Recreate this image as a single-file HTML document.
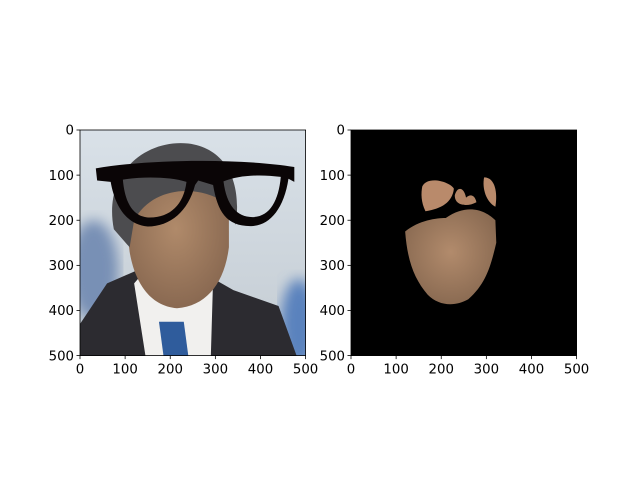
<!DOCTYPE html>
<html><head><meta charset="utf-8"><style>
html,body{margin:0;padding:0;background:#fff;}
svg{display:block;font-family:"DejaVu Sans","Liberation Sans",sans-serif;}
</style></head><body>
<svg id="fig" width="640" height="480" viewBox="0 0 640 480">
<defs>
<linearGradient id="bgg" x1="0" y1="0" x2="0" y2="1"><stop offset="0" stop-color="#d9e1e8"/><stop offset="1" stop-color="#c4ccd3"/></linearGradient>
<radialGradient id="skin" cx="0.5" cy="0.45" r="0.6"><stop offset="0" stop-color="#b08a6a"/><stop offset="1" stop-color="#86664f"/></radialGradient>
<radialGradient id="skin2" cx="0.5" cy="0.45" r="0.6"><stop offset="0" stop-color="#b28b6c"/><stop offset="1" stop-color="#876850"/></radialGradient>
<filter id="blur"><feGaussianBlur stdDeviation="14"/></filter>
<clipPath id="clipL"><rect x="0" y="0" width="500" height="500"/></clipPath>
</defs>
<g id="imgL" transform="translate(80,130) scale(0.4512)" clip-path="url(#clipL)">
  <rect width="500" height="500" fill="url(#bgg)"/>
  <ellipse cx="30" cy="310" rx="55" ry="110" fill="#7890b5" filter="url(#blur)"/>
  <ellipse cx="485" cy="430" rx="40" ry="100" fill="#5a82bd" filter="url(#blur)"/>
  <polygon points="0,430 60,340 140,305 270,315 340,355 440,390 480,500 0,500" fill="#2c2b30"/>
  <polygon points="120,340 150,305 205,390 265,315 295,330 290,500 145,500" fill="#f1f0ee"/>
  <polygon points="175,425 230,425 240,500 185,500" fill="#2f5c9c"/>
  <path d="M95,150 C90,60 300,40 330,150 L330,260 C320,340 280,390 215,395 C150,390 120,330 110,270 Z" fill="url(#skin)"/>
  <path d="M75,220 C50,90 150,20 240,30 C320,40 360,110 345,210 L320,160 C260,120 160,125 120,200 L110,260 Z" fill="#4c4c4f"/>
  <path d="M35,85 C150,65 350,62 475,82 L475,115 L462,108 C452,175 420,212 380,213 C325,214 305,182 295,122 L262,112 L255,122 C240,180 200,214 150,214 C105,210 78,172 68,115 L38,112 Z M95,110 C100,168 122,194 155,194 C200,194 230,165 236,115 C200,103 135,103 95,110 Z M318,114 C325,168 348,193 382,193 C420,193 440,158 445,104 C400,98 352,100 318,114 Z" fill="#0a0506" fill-rule="evenodd"/>
</g>
<g id="imgR" transform="translate(351,130) scale(0.4512)" clip-path="url(#clipL)">
  <rect width="500" height="500" fill="#000"/>
  <path d="M120,225 C150,200 190,195 210,195 C260,160 300,180 320,200 L322,250 C310,300 300,340 260,375 C230,392 195,390 170,365 C140,330 125,290 120,225 Z" fill="url(#skin2)"/>
  <path d="M158,125 C170,100 220,115 228,130 C225,160 200,175 165,180 C155,160 155,140 158,125 Z" fill="#b98a6b"/>
  <path d="M295,105 C320,105 325,140 320,170 C300,160 290,130 295,105 Z" fill="#b98a6b"/>
  <path d="M230,145 C235,125 250,125 255,150 C265,140 275,145 278,160 C260,170 230,170 230,145 Z" fill="#b38667"/>
</g>
<g id="axes"></g>
<script>
const xTicks=[0,100,200,300,400,500];
const yTicks=[0,100,200,300,400,500];
const axesLeft=[80,351];
const svgNS="http://www.w3.org/2000/svg";
const g=document.getElementById('axes');
const top0=130,size=225.6;
function sx(x0,v){return x0+v/500*size;}
function sy(v){return top0+v/500*size;}
function el(t,a){const e=document.createElementNS(svgNS,t);for(const k in a)e.setAttribute(k,a[k]);g.appendChild(e);return e;}
axesLeft.forEach((x0,i)=>{
  const f=el('rect',{x:x0,y:top0,width:size,height:size,fill:'none',stroke:'#000','stroke-width':0.8});
  
  
  xTicks.forEach(v=>{
    const x=sx(x0,v);
    const t=el('line',{x1:x,x2:x,y1:top0+size,y2:top0+size+3.5,stroke:'#000','stroke-width':0.8});
    
    
    const l=el('text',{x:x,y:top0+size+18,'text-anchor':'middle','font-size':13.3,fill:'#000'});
    l.textContent=v;
    
    
  });
  yTicks.forEach(v=>{
    const y=sy(v);
    const t=el('line',{x1:x0-3.5,x2:x0,y1:y,y2:y,stroke:'#000','stroke-width':0.8});
    
    
    const l=el('text',{x:x0-6,y:y+4.7,'text-anchor':'end','font-size':13.3,fill:'#000'});
    l.textContent=v;
    
    
  });
});
</script>
</svg>
</body></html>
